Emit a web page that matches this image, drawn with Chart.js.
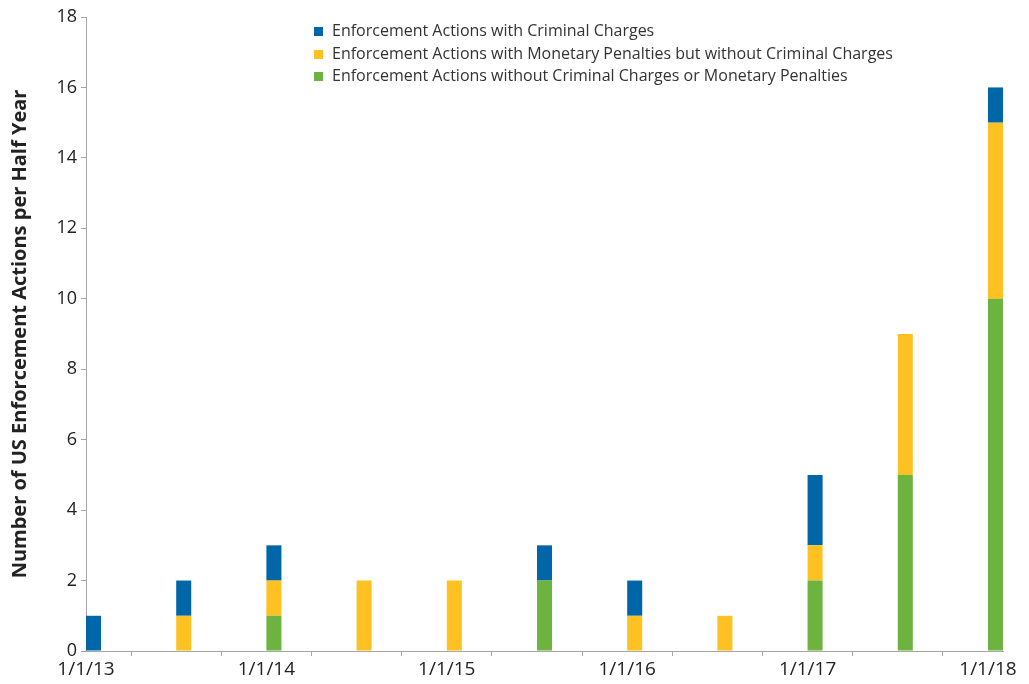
<!DOCTYPE html>
<html>
<head>
<meta charset="utf-8">
<script src="https://cdn.jsdelivr.net/npm/chart.js@4/dist/chart.umd.min.js"></script>
<style>
  body { margin: 0; background: #fff; }
  #wrap { position: relative; width: 1029px; height: 684px; }
  #legend { position: absolute; left: 314px; top: 19px; font-family: "Open Sans", sans-serif; font-size: 16px; color: #333; }
  #legend div { height: 22.5px; line-height: 22.5px; white-space: nowrap; }
  #legend span { display: inline-block; width: 9px; height: 9px; margin-right: 9px; vertical-align: 0px; }
</style>
</head>
<body>
<div id="wrap">
  <canvas id="chart" width="1029" height="684"></canvas>
  <div id="legend"></div>
</div>
<script>
// half-year periods, bars sit on the first month of each
const periods = ["1/1/13", "7/1/13", "1/1/14", "7/1/14", "1/1/15", "7/1/15", "1/1/16", "7/1/16", "1/1/17", "7/1/17", "1/1/18"];
const noChargesNoPenalties = [0, 0, 1, 0, 0, 2, 0, 0, 2, 5, 10];
const monetaryPenalties = [0, 1, 1, 2, 2, 0, 1, 1, 1, 4, 5];
const criminalCharges = [1, 1, 1, 0, 0, 1, 1, 0, 2, 0, 1];
const yTicks = [0, 2, 4, 6, 8, 10, 12, 14, 16, 18];

// months since 1/1/13
function monthOf(p) {
    let parts = p.split("/");
    return (parseInt(parts[2]) - 13) * 12 + (parseInt(parts[0]) - 1);
}

function points(values) {
    return values.map((v, i) => ({ x: monthOf(periods[i]) + 0.5, y: v }));
}

const axisGray = "#a6a6a6";

let chart = new Chart(document.getElementById("chart"), {
    type: "bar",
    data: {
        datasets: [
            { label: "Enforcement Actions without Criminal Charges or Monetary Penalties", data: points(noChargesNoPenalties), backgroundColor: "#6cb33f" },
            { label: "Enforcement Actions with Monetary Penalties but without Criminal Charges", data: points(monetaryPenalties), backgroundColor: "#fdc221" },
            { label: "Enforcement Actions with Criminal Charges", data: points(criminalCharges), backgroundColor: "#0066a8" }
        ]
    },
    options: {
        responsive: false,
        animation: false,
        layout: { padding: { left: 0, top: 17, right: 26, bottom: 0 } },
        datasets: { bar: { barPercentage: 1 / 6, categoryPercentage: 1 } },
        plugins: { legend: { display: false }, tooltip: { enabled: false } },
        scales: {
            x: {
                type: "linear",
                stacked: true,
                min: 0,
                max: monthOf(periods[periods.length - 1]) + 1,
                offset: false,
                afterBuildTicks: (scale) => {
                    scale.ticks = periods.map(p => ({ value: monthOf(p) }));
                },
                afterFit: (scale) => { scale.height = 33; },
                ticks: {
                    autoSkip: false,
                    maxRotation: 0,
                    color: "#222",
                    font: { family: "'Open Sans', sans-serif", size: 19 },
                    padding: 2,
                    callback: (v) => v % 12 === 0 ? "1/1/" + (13 + v / 12) : ""
                },
                grid: { drawOnChartArea: false, tickLength: 5, color: axisGray },
                border: { color: axisGray }
            },
            y: {
                stacked: true,
                min: 0,
                max: 18,
                afterBuildTicks: (scale) => {
                    scale.ticks = yTicks.map(v => ({ value: v }));
                },
                afterFit: (scale) => { scale.width = 86; },
                ticks: { color: "#222", font: { family: "'Open Sans', sans-serif", size: 18 }, padding: 4 },
                grid: { drawOnChartArea: false, tickLength: 5, color: axisGray },
                border: { color: axisGray },
                title: {
                    display: true,
                    text: "Number of US Enforcement Actions per Half Year",
                    color: "#222",
                    font: { family: "'Open Sans', sans-serif", size: 20, weight: "bold" },
                    padding: { top: 8, bottom: 0 }
                }
            }
        }
    }
});

// legend, blue first like the original
let legend = document.getElementById("legend");
chart.data.datasets.slice().reverse().forEach(ds => {
    let row = document.createElement("div");
    let box = document.createElement("span");
    box.style.background = ds.backgroundColor;
    row.appendChild(box);
    row.appendChild(document.createTextNode(ds.label));
    legend.appendChild(row);
});
</script>
</body>
</html>
